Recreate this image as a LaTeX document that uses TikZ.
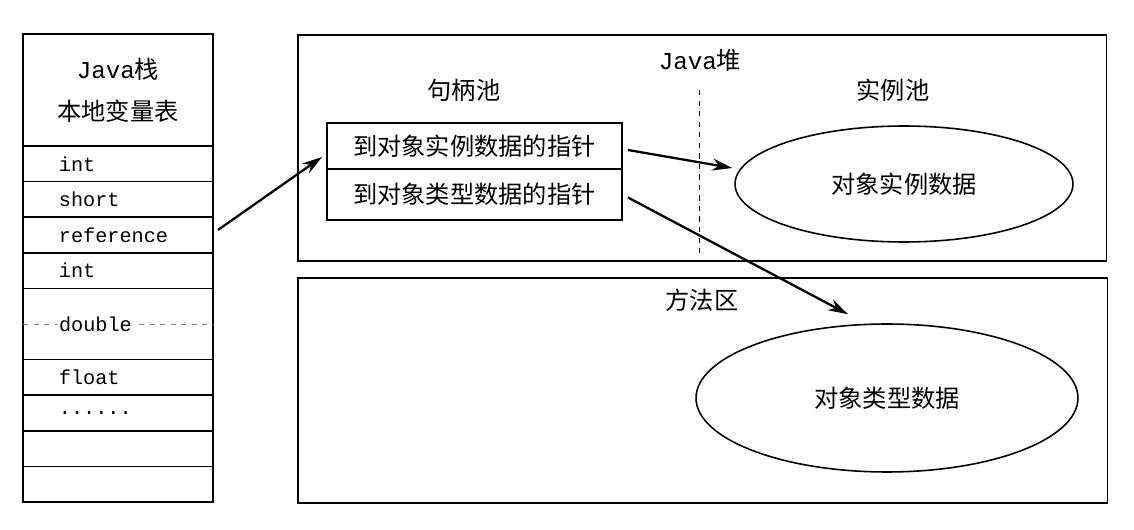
\documentclass[tikz,border=0pt]{standalone}
\usepackage{fontspec}
\setmainfont{Noto Sans CJK SC}
\setmonofont{Liberation Mono}
\usepackage{tikz}
\usetikzlibrary{shapes,arrows,arrows.meta,positioning,calc}
\newcommand{\slotfont}{\fontsize{11.5}{13}\selectfont\ttfamily}
\newcommand{\cnfont}{\fontsize{13.8}{16}\selectfont}

\begin{document}
\begin{tikzpicture}[
    x=0.02cm, y=-0.02cm,
    node distance=0pt,
    slot/.style={draw, line width=0.9pt, rectangle, outer sep=0pt, minimum width=3.8cm, minimum height=0.712cm, inner xsep=0.72cm, inner ysep=0pt, text width=2.36cm, align=left, font=\slotfont},
    head/.style={draw, line width=0.9pt, rectangle, outer sep=0pt, minimum width=3.8cm, minimum height=2.24cm, align=center, font=\fontsize{13.8}{23.9}\selectfont},
    ptr/.style={draw, line width=0.9pt, rectangle, outer sep=0pt, minimum width=5.9cm, minimum height=0.92cm, inner sep=0pt, font=\cnfont},
    area/.style={draw, line width=0.9pt, rectangle, inner sep=0pt},
    areatitle/.style={inner sep=1pt, font=\cnfont},
    blob/.style={draw, line width=0.9pt, ellipse, inner sep=0pt, font=\cnfont},
    arrow/.style={-{Stealth[length=4mm,width=2.4mm]}, line width=1.3pt}
]
\useasboundingbox (0,0) rectangle (1134,530);

% Java stack with local variables
\node[head, anchor=north west] (head) at (23,34) {\texttt{Java}栈\\本地变量表};
\node[slot, below=of head] (s1) {int};
\node[slot, below=of s1] (s2) {short};
\node[slot, below=of s2] (ref) {reference};
\node[slot, below=of ref] (s4) {int};
\node[slot, below=of s4, minimum height=1.424cm] (dbl) {};
\node[slot, below=of dbl] (s6) {float};
\node[slot, below=of s6] (s7) {......};
\node[slot, below=of s7] (s8) {};
\node[slot, below=of s8] (s9) {};
\draw[dashed, gray, thin] (dbl.west) -- (dbl.east);
\node[fill=white, inner sep=1pt, font=\slotfont, anchor=west] (dbltext) at ([xshift=0.68cm]dbl.west) {double};

% Heap and method area
\node[area, anchor=north west, minimum width=16.18cm, minimum height=4.52cm] (heap) at (297,34) {};
\node[area, anchor=north west, minimum width=16.2cm, minimum height=4.5cm] (method) at (297,277) {};
\node[areatitle] (heaptitle) at (700,60) {\texttt{Java}堆};
\node[areatitle] (pooltitle) at (464,90) {句柄池};
\node[areatitle] (insttitle) at (893,90) {实例池};
\node[areatitle] (methodtitle) at (702,300) {方法区};
\coordinate (divtop) at (699,90);
\coordinate (divbot) at (699,253);
\draw[dashed, thin] (divtop) -- (divbot);

% Handle pool
\node[ptr, anchor=north west] (ptrA) at (327,123) {到对象实例数据的指针};
\node[ptr, below=of ptrA, minimum height=1.02cm] (ptrB) {到对象类型数据的指针};

% Object data
\node[blob, minimum width=6.76cm, minimum height=2.32cm] (inst) at (904,184) {对象实例数据};
\node[blob, minimum width=7.64cm, minimum height=2.96cm] (type) at (887,398) {对象类型数据};

% References
\draw[arrow] ($(ref.east)+(5,-5)$) -- ($(ptrA.west)+(-5,11)$);
\draw[arrow] ($(ptrA.east)+(6,4)$) -- ($(inst.west)+(-2,-16)$);
\draw[arrow] ($(ptrB.east)+(6,3)$) -- ($(type.north)+(-39,-9)$);

\end{tikzpicture}
\end{document}
